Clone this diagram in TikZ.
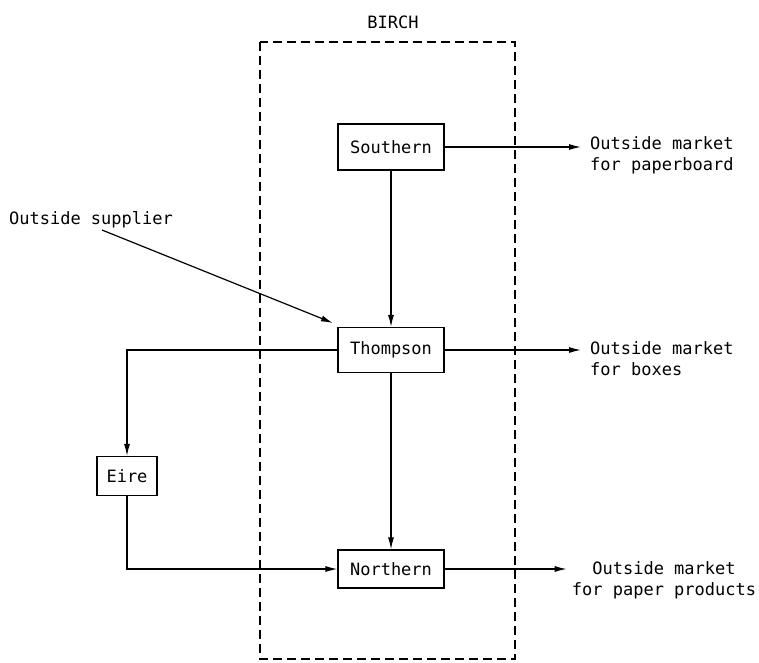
\documentclass[tikz,border=0pt]{standalone}
\usepackage{fontspec}
\setmainfont{DejaVu Sans Mono}
\usetikzlibrary{arrows.meta}

\tikzset{
  unit/.style={draw,line width=1.2pt,inner sep=0pt,minimum width=106pt},
  market/.style={inner sep=5pt,anchor=west,align=left},
  flow/.style={line width=1.2pt,-{Latex[length=12pt,width=6pt]}}
}

\begin{document}
\begin{tikzpicture}[x=1pt,y=-1pt,font=\fontsize{17}{21}\selectfont]
  \useasboundingbox (0,0) rectangle (759,662);
  % the division
  \draw[line width=1.2pt,dash pattern=on 9pt off 5pt] (260,42) rectangle (515,659);
  \node (birch) at (393,22) {BIRCH};

  \node[unit,minimum height=46pt] (south) at (391,147) {Southern};
  \node[unit,minimum height=45pt] (thom) at (391,350) {Thompson};
  \node[unit,minimum height=38pt] (north) at (391,569) {Northern};
  \node[unit,minimum width=60pt,minimum height=39pt] (eire) at (127,476) {Eire};

  \node (supp) at (91,220) {Outside supplier};
  \coordinate (suptail) at (102,230);
  \coordinate (suphead) at (333,323);

  \node[market] (mkt1) at (585,155) {Outside market\\for paperboard};
  \node[market] (mkt2) at (585,359) {Outside market\\for boxes};
  \node[inner sep=5pt,align=center] (mkt3) at (664,580) {Outside market\\for paper products};

  \path[flow]
    (south) edge (thom)
    (thom) edge (north)
    (suptail) edge (suphead)
    (south) edge [shorten >=4pt] (mkt1.west |- south)
    (thom) edge [shorten >=4pt] (mkt2.west |- thom)
    (north) edge (mkt3.west |- north);
  \draw[flow] (thom.west) -| (eire.north);
  \draw[flow] (eire.south) |- (north.west);
\end{tikzpicture}
\end{document}
